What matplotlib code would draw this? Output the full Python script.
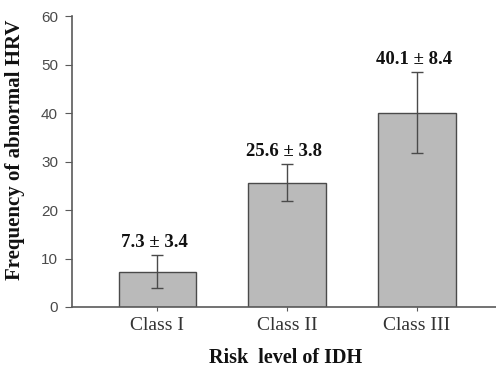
import matplotlib
matplotlib.use("Agg")
import matplotlib.pyplot as plt
import numpy as np

classes = ["Class I", "Class II", "Class III"]
means = [7.3, 25.6, 40.1]
sds = [3.4, 3.8, 8.4]
labels = ["7.3 \u00b1 3.4", "25.6 \u00b1 3.8", "40.1 \u00b1 8.4"]

fig = plt.figure(figsize=(4.96, 3.67), dpi=100)
ax = fig.add_axes([0.145, 0.1635, 0.86, 0.7925])

x = np.arange(len(classes))
ax.bar(x, means, width=0.6, color="#bababa", edgecolor="#4a4a4a", linewidth=1.0, zorder=2)
ax.errorbar(x, means, yerr=sds, fmt="none", ecolor="#4a4a4a", elinewidth=1.0,
            capsize=4, capthick=1.0, zorder=3)

for xi, m, s, lab in zip(x, means, sds, labels):
    ax.annotate(lab, (xi, m + s), xytext=(-2, 3), textcoords="offset points",
                ha="center", va="bottom", fontsize=13.5, fontweight="bold",
                fontfamily="Liberation Serif", color="#111111")

ax.set_xlim(-0.66, 2.63)
ax.set_ylim(0, 60)
ax.set_yticks(range(0, 61, 10))
ax.set_xticks(x)
ax.set_xticklabels(classes, fontfamily="Liberation Serif", fontsize=14, color="#333333")
for t in ax.get_yticklabels():
    t.set_fontfamily("Liberation Sans")
    t.set_fontsize(11)
    t.set_color("#4a4a4a")

ax.spines["top"].set_visible(False)
ax.spines["right"].set_visible(False)
for s in ["left", "bottom"]:
    ax.spines[s].set_color("#5a5a5a")
    ax.spines[s].set_linewidth(1.2)
ax.tick_params(axis="y", direction="out", length=5, color="#5a5a5a", pad=5)
ax.tick_params(axis="x", direction="out", length=3, color="#5a5a5a", pad=4)

ax.set_ylabel("Frequency of abnormal HRV", fontfamily="Liberation Serif",
              fontweight="bold", fontsize=15, color="#111111")
ax.yaxis.set_label_coords(-0.11, 0.54)
ax.set_xlabel("Risk  level of IDH", fontfamily="Liberation Serif",
              fontweight="bold", fontsize=14.5, color="#111111", labelpad=10)

fig.savefig("out.png", dpi=100)
